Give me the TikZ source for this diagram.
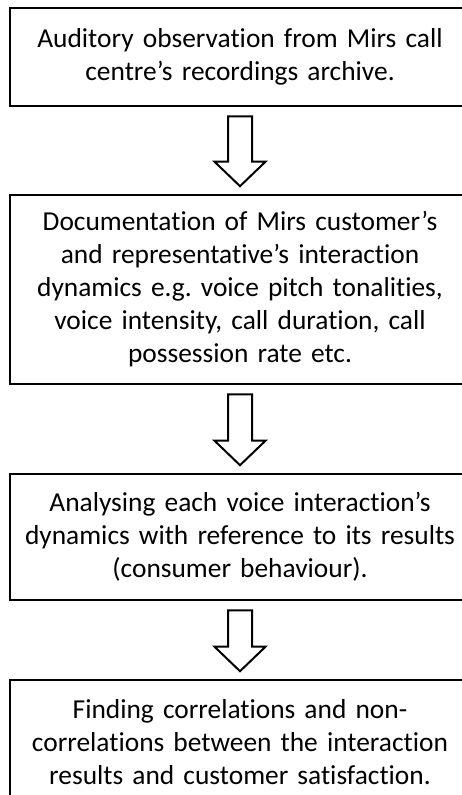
\documentclass[tikz,border=0pt]{standalone}
\usepackage{fontspec}
\setmainfont{Carlito}[Ligatures={NoCommon,NoContextual}]
\usetikzlibrary{calc}
\frenchspacing
\begin{document}
\begin{tikzpicture}[x=1pt,y=1pt,
  stepbox/.style={draw=black,line width=2.6pt,minimum width=460pt,inner sep=0pt,
    align=center,text width=450pt,font=\fontsize{27.4}{33}\selectfont},
  blk/.style={draw=black,line width=2pt,fill=white,line join=miter}]
\useasboundingbox (0,0) rectangle (462,-795);
\clip (0,0) rectangle (462,-795);
\node[stepbox,minimum height=98pt] (b1) at (240,-57) {Auditory observation from Mirs call\\centre’s recordings archive.};
\node[stepbox,minimum height=189pt] (b2) at (240,-289.5) {Documentation of Mirs customer’s\\and representative’s interaction\\dynamics e.g. voice pitch tonalities,\\voice intensity, call duration, call\\possession rate etc.};
\node[stepbox,minimum height=126pt] (b3) at (240,-537) {Analysing each voice interaction’s\\dynamics with reference to its results\\(consumer behaviour).};
\node[stepbox,minimum height=124pt] (b4) at (240,-742) {Finding correlations and non-\\correlations between the interaction\\results and customer satisfaction.};
\foreach \a/\b in {b1/b2,b2/b3,b3/b4}{
  \draw[blk] ($(\a.south)+(-12,-9)$) -- ($(\a.south)+(12,-9)$) -- ($(\b.north)+(12,32)$)
    -- ($(\b.north)+(25.5,32)$) -- ($(\b.north)+(0,7.5)$) -- ($(\b.north)+(-25.5,32)$)
    -- ($(\b.north)+(-12,32)$) -- cycle;
}
\end{tikzpicture}
\end{document}
